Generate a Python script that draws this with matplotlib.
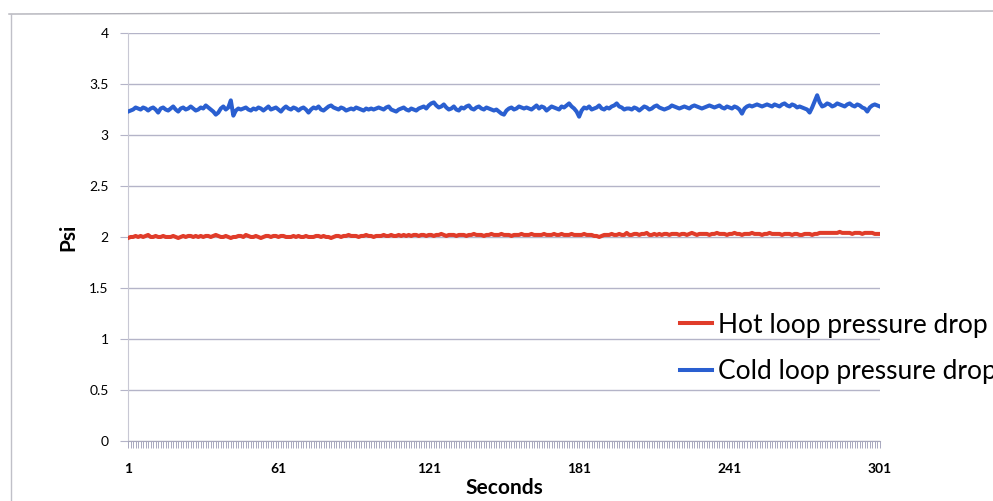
import numpy as np
import matplotlib.pyplot as plt
from matplotlib.lines import Line2D

plt.rcParams['font.family'] = ['Lato', 'DejaVu Sans']

# seconds 1..301
seconds = list(range(1, 302))

# cold loop pressure drop (psi)
cold_psi = [
    3.23, 3.24, 3.25, 3.27, 3.26, 3.25, 3.27, 3.26, 3.24, 3.26,
    3.27, 3.25, 3.22, 3.26, 3.27, 3.25, 3.24, 3.26, 3.28, 3.25,
    3.23, 3.26, 3.27, 3.25, 3.26, 3.28, 3.26, 3.24, 3.25, 3.27,
    3.26, 3.29, 3.27, 3.25, 3.23, 3.20, 3.22, 3.26, 3.28, 3.25,
    3.27, 3.34, 3.19, 3.24, 3.26, 3.25, 3.26, 3.27, 3.25, 3.24,
    3.26, 3.25, 3.27, 3.26, 3.24, 3.26, 3.28, 3.25, 3.26, 3.27,
    3.25, 3.23, 3.26, 3.28, 3.26, 3.25, 3.27, 3.26, 3.24, 3.26,
    3.27, 3.25, 3.22, 3.25, 3.27, 3.26, 3.28, 3.25, 3.24, 3.26,
    3.28, 3.29, 3.27, 3.26, 3.25, 3.27, 3.26, 3.24, 3.25, 3.26,
    3.25, 3.27, 3.26, 3.25, 3.24, 3.26, 3.25, 3.26, 3.25, 3.26,
    3.27, 3.26, 3.25, 3.27, 3.28, 3.25, 3.24, 3.23, 3.25, 3.26,
    3.27, 3.25, 3.24, 3.26, 3.25, 3.24, 3.26, 3.27, 3.28, 3.26,
    3.29, 3.31, 3.32, 3.29, 3.27, 3.28, 3.30, 3.27, 3.25, 3.26,
    3.28, 3.25, 3.24, 3.27, 3.26, 3.28, 3.29, 3.26, 3.25, 3.27,
    3.28, 3.26, 3.25, 3.27, 3.26, 3.25, 3.24, 3.25, 3.23, 3.21,
    3.20, 3.24, 3.26, 3.27, 3.25, 3.26, 3.28, 3.27, 3.26, 3.27,
    3.26, 3.25, 3.27, 3.29, 3.26, 3.28, 3.27, 3.24, 3.26, 3.28,
    3.27, 3.26, 3.25, 3.28, 3.27, 3.29, 3.31, 3.28, 3.26, 3.23,
    3.18, 3.24, 3.27, 3.26, 3.28, 3.25, 3.26, 3.27, 3.29, 3.26,
    3.25, 3.27, 3.26, 3.28, 3.29, 3.31, 3.28, 3.27, 3.25, 3.26,
    3.26, 3.25, 3.27, 3.26, 3.24, 3.26, 3.28, 3.27, 3.25, 3.26,
    3.28, 3.29, 3.27, 3.26, 3.25, 3.26, 3.27, 3.29, 3.28, 3.27,
    3.26, 3.27, 3.28, 3.27, 3.26, 3.28, 3.29, 3.28, 3.27, 3.26,
    3.27, 3.28, 3.29, 3.28, 3.27, 3.28, 3.29, 3.27, 3.26, 3.28,
    3.27, 3.26, 3.28, 3.27, 3.25, 3.21, 3.26, 3.28, 3.29, 3.28,
    3.29, 3.30, 3.29, 3.28, 3.29, 3.30, 3.29, 3.28, 3.30, 3.29,
    3.28, 3.30, 3.31, 3.29, 3.28, 3.30, 3.29, 3.27, 3.28, 3.27,
    3.26, 3.25, 3.22, 3.27, 3.33, 3.39, 3.32, 3.28, 3.29, 3.31,
    3.30, 3.28, 3.29, 3.31, 3.30, 3.29, 3.28, 3.30, 3.31, 3.29,
    3.28, 3.30, 3.29, 3.27, 3.26, 3.23, 3.27, 3.29, 3.30, 3.29,
    3.28,
]

# hot loop pressure drop (psi)
hot_psi = [
    1.99, 2.00, 2.00, 2.01, 2.00, 2.01, 2.00, 2.01, 2.02, 2.00,
    2.00, 2.01, 2.00, 2.00, 2.01, 2.00, 2.00, 2.00, 2.01, 2.00,
    1.99, 2.00, 2.01, 2.00, 2.01, 2.01, 2.00, 2.01, 2.00, 2.01,
    2.00, 2.01, 2.01, 2.00, 2.01, 2.02, 2.01, 2.00, 2.00, 2.01,
    2.00, 1.99, 2.00, 2.00, 2.01, 2.01, 2.00, 2.02, 2.01, 2.00,
    2.00, 2.01, 2.00, 1.99, 2.00, 2.01, 2.01, 2.00, 2.01, 2.01,
    2.00, 2.01, 2.01, 2.00, 2.00, 2.00, 2.01, 2.00, 2.01, 2.00,
    2.00, 2.01, 2.00, 2.00, 2.00, 2.01, 2.01, 2.00, 2.01, 2.00,
    2.00, 1.99, 2.00, 2.01, 2.01, 2.00, 2.01, 2.01, 2.02, 2.01,
    2.01, 2.01, 2.00, 2.01, 2.01, 2.02, 2.01, 2.01, 2.00, 2.01,
    2.01, 2.01, 2.02, 2.01, 2.01, 2.02, 2.01, 2.01, 2.02, 2.01,
    2.02, 2.01, 2.02, 2.01, 2.02, 2.02, 2.01, 2.02, 2.02, 2.01,
    2.02, 2.02, 2.01, 2.02, 2.02, 2.03, 2.02, 2.01, 2.02, 2.02,
    2.02, 2.01, 2.02, 2.02, 2.02, 2.01, 2.02, 2.02, 2.03, 2.02,
    2.02, 2.02, 2.01, 2.02, 2.02, 2.03, 2.02, 2.02, 2.02, 2.03,
    2.02, 2.02, 2.02, 2.01, 2.02, 2.02, 2.02, 2.03, 2.02, 2.02,
    2.02, 2.03, 2.02, 2.02, 2.02, 2.02, 2.03, 2.02, 2.02, 2.02,
    2.03, 2.02, 2.02, 2.03, 2.02, 2.02, 2.02, 2.03, 2.02, 2.02,
    2.02, 2.02, 2.03, 2.02, 2.02, 2.02, 2.01, 2.01, 2.00, 2.01,
    2.02, 2.02, 2.02, 2.03, 2.02, 2.02, 2.03, 2.02, 2.02, 2.04,
    2.02, 2.02, 2.03, 2.03, 2.02, 2.03, 2.03, 2.04, 2.02, 2.02,
    2.03, 2.02, 2.03, 2.02, 2.03, 2.03, 2.02, 2.03, 2.03, 2.03,
    2.02, 2.03, 2.03, 2.02, 2.03, 2.04, 2.03, 2.02, 2.03, 2.03,
    2.03, 2.03, 2.02, 2.03, 2.03, 2.04, 2.03, 2.03, 2.03, 2.02,
    2.03, 2.03, 2.04, 2.03, 2.03, 2.02, 2.03, 2.03, 2.03, 2.04,
    2.03, 2.03, 2.03, 2.02, 2.03, 2.03, 2.04, 2.03, 2.03, 2.03,
    2.03, 2.02, 2.03, 2.03, 2.03, 2.02, 2.03, 2.03, 2.02, 2.02,
    2.03, 2.03, 2.03, 2.02, 2.03, 2.03, 2.04, 2.04, 2.04, 2.04,
    2.04, 2.04, 2.04, 2.04, 2.05, 2.04, 2.04, 2.04, 2.04, 2.03,
    2.04, 2.04, 2.04, 2.03, 2.04, 2.04, 2.04, 2.04, 2.03, 2.03,
    2.03,
]

x_labels = [1, 61, 121, 181, 241, 301]
y_ticks = [0, 0.5, 1, 1.5, 2, 2.5, 3, 3.5, 4]

fig = plt.figure(figsize=(9.93, 5.01), dpi=100)
ax = fig.add_axes([0.129, 0.120, 0.757, 0.814])

grid_col = '#b4b4c8'
ax.plot(seconds, hot_psi, color='#e03c2a', lw=2.9, label='Hot loop pressure drop', zorder=3)
ax.plot(seconds, cold_psi, color='#2a5fd0', lw=2.9, label='Cold loop pressure drop', zorder=3)

ax.set_xlim(1, 301)
ax.set_ylim(0, 4)
ax.set_yticks(y_ticks)
ax.set_yticklabels(['0', '0.5', '1', '1.5', '2', '2.5', '3', '3.5', '4'])
ax.set_xticks(seconds)
ax.set_xticklabels([str(s) if s in x_labels else '' for s in seconds])
ax.yaxis.grid(True, color=grid_col, lw=1)
ax.set_axisbelow(True)

for side in ['top', 'right']:
    ax.spines[side].set_visible(False)
ax.spines['left'].set_color('#c8c8d4')
ax.spines['bottom'].set_color('#a8a8bc')
ax.tick_params(axis='y', length=6, color=grid_col, labelsize=10, pad=8)
ax.tick_params(axis='x', length=5, width=0.6, color='#9a9ab4', labelsize=10, pad=11)
for t in ax.get_xticklabels():
    t.set_fontweight('bold')

ax.set_xlabel('Seconds', fontsize=15, fontweight='bold', labelpad=2)
ax.set_ylabel('Psi', fontsize=15, fontweight='bold', labelpad=8)

# legend runs past the right edge, as in the original
handles = [Line2D([0], [0], color='#e03c2a', lw=2.9),
           Line2D([0], [0], color='#2a5fd0', lw=2.9)]
leg = fig.legend(handles, ['Hot loop pressure drop', 'Cold loop pressure drop'],
                 loc='upper left', bbox_to_anchor=(0.685, 0.376), frameon=False,
                 borderpad=0, borderaxespad=0, fontsize=19, handlelength=1.2,
                 handletextpad=0.25, labelspacing=0.82)

# chart area border (top and left edges)
fig.add_artist(Line2D([0.009, 1.0], [0.972, 0.978], color='#b0b0b8', lw=1))
fig.add_artist(Line2D([0.011, 0.011], [0.0, 0.972], color='#c0c0c8', lw=1))

fig.savefig('out.png', dpi=100)
